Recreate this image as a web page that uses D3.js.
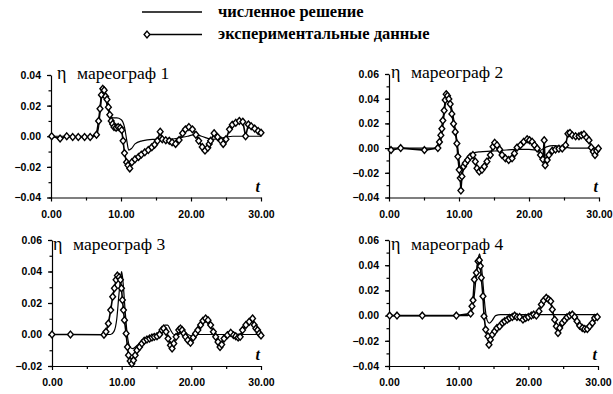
<!DOCTYPE html>
<html>
<head>
<meta charset="utf-8">
<script src="https://cdn.jsdelivr.net/npm/d3@7"></script>
<style>
  body { margin: 0; background: #fff; }
  .tick text { font-family: "Liberation Sans", Arial, sans-serif; font-size: 10.5px; font-weight: bold; }
</style>
</head>
<body>
<div id="chart"></div>
<script>
// tide gauge records: t, eta
const legendLabels = ["численное решение", "экспериментальные данные"];
const gaugeTitles = ["мареограф 1", "мареограф 2", "мареограф 3", "мареограф 4"];
const xTicks = [0, 10, 20, 30];
const yTicks1 = [-0.04, -0.02, 0, 0.02, 0.04];
const yTicks2 = [-0.04, -0.02, 0, 0.02, 0.04, 0.06];
const yTicks3 = [-0.02, 0, 0.02, 0.04, 0.06];
const yTicks4 = [-0.04, -0.02, 0, 0.02, 0.04, 0.06];

const num1T = [0, 6.4, 6.8, 7.1, 7.4, 7.7, 8.0, 8.4, 8.8, 9.4, 10.0, 10.5, 10.8, 11.1, 11.5, 12.0, 13.0, 14.5, 16.5, 18.5, 19.5, 20.5, 21.5, 23, 24.5, 26, 30];
const num1Eta = [0, 0, 0.006, 0.020, 0.032, 0.028, 0.020, 0.015, 0.012, 0.012, 0.011, 0.006, -0.002, -0.009, -0.008, -0.005, -0.003, -0.002, -0.002, -0.001, 0, 0.001, 0, -0.002, -0.001, 0, 0];
const exp1T = [0.1, 1.3, 2.25, 3.1, 3.9, 4.8, 5.6, 6.5, 6.8, 7.0, 7.2, 7.4, 7.6, 7.8, 8.0, 8.2, 8.4, 8.6, 8.8, 9.0, 9.3, 9.6, 9.9, 10.1, 10.3, 10.5, 10.8, 11.0, 11.25, 11.55, 12.0, 12.5, 12.9, 13.4, 13.9, 14.4, 14.8, 15.2, 15.6, 15.9, 16.4, 16.9, 17.3, 17.8, 18.3, 18.8, 19.2, 19.7, 20.2, 20.7, 21.1, 21.6, 22.0, 22.4, 22.6, 22.8, 23.3, 23.8, 24.3, 24.6, 25.0, 25.5, 25.9, 26.4, 26.9, 27.4, 27.8, 28.2, 28.6, 29.1, 29.6, 30.0];
const exp1Eta = [0, -0.0015, 0, -0.0005, -0.0005, -0.0005, -0.0005, 0.001, 0.010, 0.018, 0.027, 0.031, 0.030, 0.026, 0.024, 0.019, 0.014, 0.010, 0.008, 0.006, 0.0055, 0.006, 0.0055, 0.004, -0.003, -0.011, -0.017, -0.019, -0.021, -0.017, -0.015, -0.0135, -0.012, -0.0105, -0.009, -0.0072, -0.0055, -0.003, 0.003, -0.002, -0.0026, -0.003, -0.004, -0.005, -0.0025, 0.002, 0.0045, 0.006, 0.0045, 0.001, -0.003, -0.007, -0.0094, -0.0075, -0.005, -0.003, 0.002, -0.0005, -0.003, -0.005, -0.002, 0.0045, 0.0075, 0.0088, 0.010, 0.0095, 0, 0.0077, 0.0065, 0.005, 0.0034, 0.0023];

const num2T = [0, 7.0, 7.4, 7.7, 8.0, 8.3, 8.6, 9.0, 9.4, 9.8, 10.1, 10.4, 10.8, 11.3, 12.0, 13.0, 14.5, 16, 18, 20, 21.5, 22.5, 23.5, 25, 26, 30];
const num2Eta = [0, 0, 0.006, 0.018, 0.034, 0.041, 0.040, 0.031, 0.018, 0.002, -0.014, -0.020, -0.015, -0.007, -0.004, -0.003, -0.0025, -0.002, -0.001, -0.001, -0.002, 0.001, 0.002, 0.001, 0, 0];
const exp2T = [0.29, 1.67, 5.06, 6.98, 7.21, 7.41, 7.55, 7.69, 7.88, 8.03, 8.17, 8.36, 8.55, 8.74, 8.98, 9.22, 9.46, 9.70, 9.84, 10.03, 10.18, 10.27, 10.42, 10.65, 10.89, 11.23, 11.61, 11.99, 12.33, 12.57, 12.90, 13.28, 13.62, 14.0, 14.48, 14.86, 15.1, 15.43, 15.81, 16.15, 16.63, 17.1, 17.58, 17.92, 18.3, 18.78, 19.25, 19.73, 20.07, 20.45, 20.78, 21.17, 21.64, 21.98, 22.17, 22.31, 22.6, 22.84, 23.32, 23.79, 24.27, 24.75, 25.23, 25.56, 25.85, 26.18, 26.66, 27.14, 27.47, 27.85, 28.23, 28.57, 28.9, 29.19, 29.43, 29.67, 29.91];
const exp2Eta = [-0.0016, 0, -0.0016, 0, 0.005, 0.0104, 0.0157, 0.0224, 0.0304, 0.0389, 0.0437, 0.0424, 0.0397, 0.0357, 0.0277, 0.0197, 0.0131, 0.0037, -0.0069, -0.0176, -0.0243, -0.0344, -0.0229, -0.0149, -0.0123, -0.0096, -0.0069, -0.0056, -0.0109, -0.0163, -0.0189, -0.0176, -0.0149, -0.0109, -0.0056, 0.0011, 0.0043, 0.0024, -0.0011, -0.0056, -0.0083, -0.0096, -0.0083, -0.0043, 0.0005, 0.0024, 0.0051, 0.0072, 0.0064, 0.0051, 0.0024, -0.0003, -0.0056, -0.0091, 0.0064, -0.0139, -0.0096, -0.0056, -0.0021, -0.0011, -0.0005, -0.0003, 0.0024, 0.0117, 0.0123, 0.0104, 0.0096, 0.0096, 0.0104, 0.0112, 0.0085, 0.0064, 0.0005, -0.0029, -0.0056, -0.0021, -0.0003];

const num3T = [0, 8.4, 8.9, 9.3, 9.6, 9.85, 10.0, 10.2, 10.5, 10.8, 11.2, 11.6, 12.2, 13.0, 14.0, 15.0, 15.6, 16.2, 16.6, 17.0, 17.5, 18.2, 18.8, 19.5, 20.2, 21, 30];
const num3Eta = [0, 0, 0.002, 0.010, 0.025, 0.036, 0.040, 0.033, 0.015, 0, -0.008, -0.009, -0.007, -0.004, -0.002, 0, 0.003, 0.006, 0.006, 0.003, 0, 0, 0.002, 0, -0.001, 0, 0];
const exp3T = [0, 2.65, 7.46, 7.75, 8.09, 8.43, 8.71, 8.96, 9.2, 9.39, 9.63, 9.82, 9.97, 10.11, 10.26, 10.4, 10.64, 10.83, 10.98, 11.22, 11.46, 11.7, 11.94, 12.18, 12.57, 12.9, 13.24, 13.63, 14.01, 14.35, 14.68, 15.07, 15.45, 15.79, 16.03, 16.37, 16.66, 17.0, 17.24, 17.48, 17.81, 18.2, 18.44, 18.68, 18.92, 19.16, 19.5, 19.88, 20.27, 20.61, 20.94, 21.33, 21.67, 22.05, 22.39, 22.77, 23.16, 23.5, 23.83, 24.12, 24.36, 24.7, 25.18, 25.66, 26.05, 26.38, 26.72, 27.01, 27.35, 27.83, 28.31, 28.79, 29.03, 29.27, 29.51, 29.75, 30];
const exp3Eta = [0, 0, -0.0002, 0.0017, 0.007, 0.0155, 0.024, 0.0294, 0.0347, 0.0374, 0.0364, 0.0347, 0.0294, 0.0219, 0.0155, 0.0091, 0.0006, -0.0079, -0.0132, -0.0168, -0.0185, -0.0164, -0.0132, -0.01, -0.0079, -0.0057, -0.004, -0.0032, -0.0026, -0.0019, -0.0015, -0.0011, 0, 0.0028, 0.0038, 0.0017, -0.0026, -0.0068, -0.0089, -0.0057, -0.0015, 0.0028, 0.0038, 0.0028, 0.0006, -0.0015, -0.0036, -0.0053, -0.0019, 0.0006, 0.0028, 0.006, 0.0087, 0.0102, 0.0091, 0.006, 0.0017, -0.0015, -0.0047, -0.0079, -0.0064, -0.0026, -0.0004, 0.0011, -0.0004, -0.0011, -0.0019, -0.0015, 0.0028, 0.006, 0.0081, 0.0102, 0.006, 0.0038, 0.0028, 0.0006, -0.0006];

const num4T = [0, 11.3, 11.8, 12.2, 12.5, 12.8, 13.0, 13.2, 13.5, 13.8, 14.1, 14.4, 14.8, 15.3, 16, 30];
const num4Eta = [0, 0, 0.003, 0.014, 0.030, 0.045, 0.049, 0.043, 0.025, 0.006, -0.004, -0.006, -0.004, 0, 0.0008, 0.0008];
const exp4T = [0.1, 1.15, 4.78, 9.67, 11.72, 11.91, 12.06, 12.25, 12.54, 12.78, 12.97, 13.11, 13.25, 13.49, 13.64, 13.88, 14.21, 14.35, 14.55, 14.83, 15.17, 15.5, 15.89, 16.27, 16.6, 16.99, 17.32, 17.7, 18.04, 18.37, 18.76, 19.23, 19.62, 20.0, 20.43, 20.77, 21.15, 21.53, 21.87, 22.2, 22.58, 22.92, 23.21, 23.44, 23.78, 24.02, 24.26, 24.5, 24.88, 25.22, 25.55, 25.93, 26.32, 26.65, 26.99, 27.37, 27.75, 28.09, 28.47, 28.8, 29.19, 29.52, 29.9];
const exp4Eta = [0, 0, 0, 0, 0.0016, 0.0074, 0.0122, 0.0286, 0.034, 0.0432, 0.044, 0.0393, 0.03, 0.0154, -0.0005, -0.0111, -0.0164, -0.0231, -0.0191, -0.0151, -0.0125, -0.0098, -0.0085, -0.0058, -0.0045, -0.0032, -0.0019, -0.0011, 0, -0.0011, -0.0011, -0.0032, -0.0019, -0.0011, 0, 0.0008, 0, 0.0034, 0.0088, 0.0119, 0.0141, 0.0127, 0.0114, 0.0048, -0.0032, -0.0085, -0.0138, -0.0098, -0.0058, -0.0037, -0.0013, 0, 0.0008, -0.0011, -0.0045, -0.008, -0.0098, -0.0106, -0.0106, -0.0085, -0.0058, -0.0019, -0.0011];

const width = 613, height = 394;

function pairs(ts, etas) {
  return ts.map(function(t, i) { return {t: t, eta: etas[i]}; });
}

const panels = [
  {title: gaugeTitles[0], yTicks: yTicks1, num: pairs(num1T, num1Eta), exp: pairs(exp1T, exp1Eta),
   x0: 51, x1: 261, yTop: 75, yBot: 197.5, titleX: 57, titleY: 79},
  {title: gaugeTitles[1], yTicks: yTicks2, num: pairs(num2T, num2Eta), exp: pairs(exp2T, exp2Eta),
   x0: 389, x1: 599, yTop: 74, yBot: 197.5, titleX: 391, titleY: 78},
  {title: gaugeTitles[2], yTicks: yTicks3, num: pairs(num3T, num3Eta), exp: pairs(exp3T, exp3Eta),
   x0: 52, x1: 261, yTop: 240, yBot: 366, titleX: 53, titleY: 250},
  {title: gaugeTitles[3], yTicks: yTicks4, num: pairs(num4T, num4Eta), exp: pairs(exp4T, exp4Eta),
   x0: 389, x1: 598, yTop: 240, yBot: 366, titleX: 391, titleY: 250}
];

const svg = d3.select("#chart").append("svg")
  .attr("width", width)
  .attr("height", height);

// fat diamond like the scanned markers
const diamond = "M0,-3.4L2.9,0L0,3.4L-2.9,0Z";

// legend
const legend = svg.append("g");
legend.append("line")
  .attr("x1", 142).attr("x2", 202).attr("y1", 12).attr("y2", 12)
  .attr("stroke", "#000").attr("stroke-width", 1.3);
legend.append("line")
  .attr("x1", 147).attr("x2", 202).attr("y1", 34.5).attr("y2", 34.5)
  .attr("stroke", "#000").attr("stroke-width", 1.6);
legend.append("path")
  .attr("d", diamond)
  .attr("transform", "translate(147,34.5)")
  .attr("fill", "#fff").attr("stroke", "#000").attr("stroke-width", 1.4);
legend.selectAll("text.leg")
  .data(legendLabels)
  .enter().append("text")
  .attr("class", "leg")
  .attr("x", 218)
  .attr("y", function(d, i) { return 17 + i * 22; })
  .style("font-family", "'Liberation Serif', 'Times New Roman', serif")
  .style("font-size", "16.5px")
  .style("font-weight", "bold")
  .text(function(d) { return d; });

panels.forEach(function(p) {
  const yMin = d3.min(p.yTicks), yMax = d3.max(p.yTicks);
  const x = d3.scaleLinear().domain([0, 30]).range([p.x0, p.x1]);
  const y = d3.scaleLinear().domain([yMin, yMax]).range([p.yBot, p.yTop]);
  const g = svg.append("g");

  // minor ticks
  const yMinor = d3.range(Math.round(yMin * 100), Math.round(yMax * 100) + 1)
    .map(function(v) { return v / 100; });
  g.append("g")
    .attr("transform", "translate(" + p.x0 + ",0)")
    .call(d3.axisLeft(y).tickValues(yMinor).tickSize(2.5).tickFormat(""))
    .call(function(s) { s.select(".domain").remove(); });
  g.append("g")
    .attr("transform", "translate(0," + p.yBot + ")")
    .call(d3.axisBottom(x).tickValues([5, 15, 25]).tickSize(3).tickFormat(""))
    .call(function(s) { s.select(".domain").remove(); });

  g.append("g")
    .attr("transform", "translate(" + p.x0 + ",0)")
    .call(d3.axisLeft(y).tickValues(p.yTicks).tickSize(4).tickSizeOuter(0)
      .tickPadding(6).tickFormat(d3.format(".2f")));
  g.append("g")
    .attr("transform", "translate(0," + p.yBot + ")")
    .call(d3.axisBottom(x).tickValues(xTicks).tickSize(4).tickSizeOuter(0)
      .tickPadding(9).tickFormat(d3.format(".2f")));

  g.selectAll(".domain, .tick line").attr("stroke", "#000").attr("stroke-width", 1.2);
  g.selectAll(".tick text").attr("fill", "#000");

  const line = d3.line()
    .x(function(d) { return x(d.t); })
    .y(function(d) { return y(d.eta); });

  g.append("path")
    .attr("d", line.curve(d3.curveMonotoneX)(p.num))
    .attr("fill", "none")
    .attr("stroke", "#000")
    .attr("stroke-width", 1.2);

  g.append("path")
    .attr("d", line.curve(d3.curveLinear)(p.exp))
    .attr("fill", "none")
    .attr("stroke", "#000")
    .attr("stroke-width", 1.6);

  g.selectAll(".mark")
    .data(p.exp)
    .enter().append("path")
    .attr("class", "mark")
    .attr("d", diamond)
    .attr("transform", function(d) { return "translate(" + x(d.t) + "," + y(d.eta) + ")"; })
    .attr("fill", "#fff")
    .attr("stroke", "#000")
    .attr("stroke-width", 1.4);

  // titles
  g.append("text")
    .attr("x", p.titleX).attr("y", p.titleY)
    .style("font-family", "'Liberation Serif', 'Times New Roman', serif")
    .style("font-size", "18px")
    .text("η");
  g.append("text")
    .attr("x", p.titleX + 20).attr("y", p.titleY)
    .style("font-family", "'Liberation Serif', 'Times New Roman', serif")
    .style("font-size", "17.5px")
    .text(p.title);
  g.append("text")
    .attr("x", p.x1 - 1).attr("y", p.yBot - 6)
    .attr("text-anchor", "end")
    .style("font-family", "'Liberation Serif', 'Times New Roman', serif")
    .style("font-size", "16px")
    .style("font-style", "italic")
    .style("font-weight", "bold")
    .text("t");
});
</script>
</body>
</html>
